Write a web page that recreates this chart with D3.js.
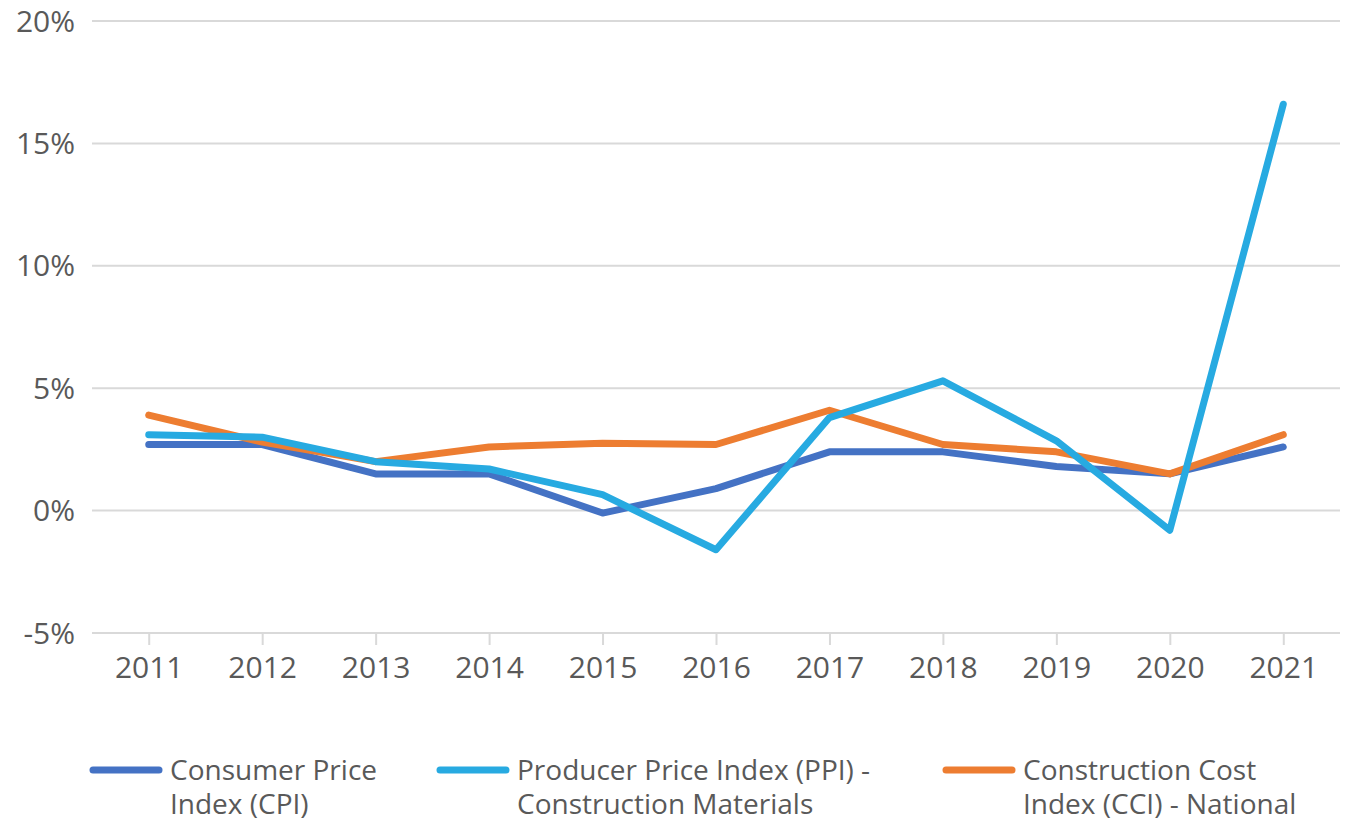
<html>
<head>
<script src="https://d3js.org/d3.v7.min.js"></script>
<style>
  body { margin: 0; background: #fff; }
  svg text { font-family: "Open Sans", sans-serif; fill: #595959; }
</style>
</head>
<body>
<script>
// data
var years = ["2011","2012","2013","2014","2015","2016","2017","2018","2019","2020","2021"];
var cpi = [2.7, 2.7, 1.5, 1.5, -0.1, 0.9, 2.4, 2.4, 1.8, 1.5, 2.6];
var ppi = [3.1, 3.0, 2.0, 1.7, 0.65, -1.6, 3.8, 5.3, 2.85, -0.8, 16.6];
var cci = [3.9, 2.8, 2.0, 2.6, 2.75, 2.7, 4.1, 2.7, 2.4, 1.5, 3.1];
var yTicks = [-5, 0, 5, 10, 15, 20];
var seriesNames = [["Consumer Price", "Index (CPI)"],
                   ["Producer Price Index (PPI) -", "Construction Materials"],
                   ["Construction Cost", "Index (CCI) - National"]];
var colors = ["#4472c4", "#27aae1", "#ed7d31"];

var width = 1353, height = 825;
var plotLeft = 92, plotRight = 1340, plotTop = 21, plotBottom = 633;

var svg = d3.select("body").append("svg")
    .attr("width", width)
    .attr("height", height);

var x = d3.scalePoint().domain(years).range([plotLeft, plotRight]).padding(0.5);
var y = d3.scaleLinear().domain([-5, 20]).range([plotBottom, plotTop]);

// horizontal grid lines
svg.append("g")
  .selectAll("line")
  .data(yTicks)
  .enter().append("line")
    .attr("x1", plotLeft).attr("x2", plotRight)
    .attr("y1", function(d) { return y(d); })
    .attr("y2", function(d) { return y(d); })
    .attr("stroke", "#d9d9d9")
    .attr("stroke-width", 2);

// y axis labels
svg.append("g")
  .selectAll("text")
  .data(yTicks)
  .enter().append("text")
    .attr("x", 75)
    .attr("y", function(d) { return y(d); })
    .attr("dy", ".35em")
    .attr("text-anchor", "end")
    .style("font-size", "30px")
    .text(function(d) { return d + "%"; });

// x axis
var xAxis = svg.append("g")
    .attr("transform", "translate(0," + plotBottom + ")")
    .call(d3.axisBottom(x).tickSize(12).tickPadding(12));
xAxis.select(".domain").remove();
xAxis.selectAll(".tick line").attr("stroke", "#d9d9d9").attr("stroke-width", 2);
xAxis.selectAll(".tick text")
    .attr("fill", "#595959")
    .style("font-family", "'Open Sans', sans-serif")
    .style("font-size", "30px");

// lines
var line = d3.line()
    .x(function(d, i) { return x(years[i]); })
    .y(function(d) { return y(d); });

var drawOrder = [[cpi, colors[0]], [cci, colors[2]], [ppi, colors[1]]];
drawOrder.forEach(function(s) {
  svg.append("path")
    .datum(s[0])
    .attr("d", line)
    .attr("fill", "none")
    .attr("stroke", s[1])
    .attr("stroke-width", 7)
    .attr("stroke-linejoin", "round")
    .attr("stroke-linecap", "round");
});

// legend
var legendX = [93, 440, 946];
var leg = svg.append("g")
  .selectAll("g")
  .data(seriesNames)
  .enter().append("g")
    .attr("transform", function(d, i) { return "translate(" + legendX[i] + ",770)"; });
leg.append("line")
    .attr("x1", 0).attr("x2", 66)
    .attr("stroke", function(d, i) { return colors[i]; })
    .attr("stroke-width", 7)
    .attr("stroke-linecap", "round");
leg.append("text")
    .attr("x", 77)
    .attr("dy", ".35em")
    .style("font-size", "28px")
    .text(function(d) { return d[0]; });
leg.append("text")
    .attr("x", 77)
    .attr("y", 34)
    .attr("dy", ".35em")
    .style("font-size", "28px")
    .text(function(d) { return d[1]; });
</script>
</body>
</html>
